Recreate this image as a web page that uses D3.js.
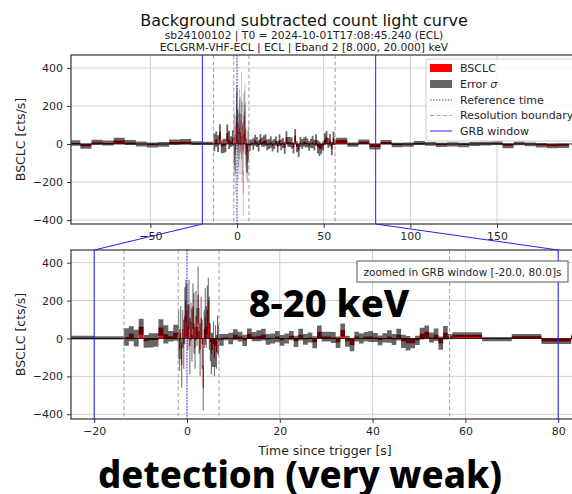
<!DOCTYPE html>
<html><head><meta charset="utf-8">
<script src="https://cdn.jsdelivr.net/npm/d3@7"></script>
<style>
body{margin:0;background:#fff;}
svg{display:block;font-family:"DejaVu Sans",sans-serif;}
</style></head><body>
<svg id="c" width="572" height="494"></svg>
<script>
// ---------- DATA ----------
const titleMain = "Background subtracted count light curve";
const titleSub1 = "sb24100102 | T0 = 2024-10-01T17:08:45.240 (ECL)";
const titleSub2 = "ECLGRM-VHF-ECL | ECL | Eband 2 [8.000, 20.000] keV";
const yLabel = "BSCLC [cts/s]";
const xLabel = "Time since trigger [s]";
const bandLabel = "8-20 keV";
const verdictLabel = "detection (very weak)";
const zoomNote = "zoomed in GRB window [-20.0, 80.0]s";
const legendLabels = ["BSCLC", "Error σ", "Reference time", "Resolution boundary", "GRB window"];

// time-bin segments: start time and bin width of each resolution segment
const segStart = [-96.8, -13.6, -1.9, 6.9, 57.2];
const segWidth = [6.4, 1.0636, 0.22, 1.006, 6.4];

// segment 0: coarse pre-burst bins
const coarsePreVals = [5, -12, 9, 5, 18, 8, 0, -5, -2, 10, 12, 4, 3];
const coarsePreErr  = [14, 13, 13, 13, 15, 13, 13, 13, 13, 14, 14, 10, 9];
// segment 1: medium pre-trigger bins
const medPreVals = [8, 25, 2, 62, -15, -10, -8, 58, 22, 12, 30];
const medPreErr  = [46, 40, 44, 42, 34, 38, 36, 44, 48, 28, 42];
// segment 2: fine bins around trigger
const fineVals = [20, -60, 30, -140, 50, -30, 120, 200, 150, 60,
                  180, -40, 90, 20, 170, 80, -50, 120, 60, 230,
                  40, -60, 110, -30, -260, 50, 115, 60, 150, 200,
                  80, -20, -80, -60, -30, -100, -40, -70, 20, -10];
const fineErr  = [130, 110, 140, 120, 100, 130, 150, 110, 140, 120,
                  130, 150, 100, 140, 120, 160, 110, 130, 100, 150,
                  120, 140, 110, 130, 120, 100, 150, 110, 130, 120,
                  140, 100, 110, 90, 120, 100, 110, 90, 100, 80];
// segment 3: medium post-trigger bins
const medPostVals = [-7, 7, 0, 20, 10, -10, 25, 10, 15, 20,
                     -5, 0, 10, -10, 0, 15, -15, 20, -5, 5,
                     -20, 35, 10, 10, 5, -20, 45, -15, -35, 10,
                     0, 10, 10, 5, -10, 3, 10, -5, 20, -15,
                     -25, -25, -10, 25, 35, 5, 20, -25, 30, 10];
const medPostErr  = [31, 17, 30, 29, 26, 30, 28, 24, 29, 31,
                     28, 26, 30, 29, 26, 24, 30, 31, 28, 26,
                     32, 33, 26, 26, 29, 30, 34, 29, 33, 26,
                     26, 24, 29, 24, 26, 24, 33, 29, 31, 35,
                     38, 26, 24, 31, 33, 26, 33, 35, 36, 14];
// segment 4: coarse post-burst bins
const coarsePostVals = [20, -3, 12, -16, 10, -5, -3, 5, 0, -5, -2, -5, 0, 2, 4, -10, 3, -2, -7, -12, -10];
const coarsePostErr  = [13, 11, 11, 13, 11, 12, 11, 11, 10, 11, 11, 12, 11, 10, 10, 12, 10, 10, 11, 11, 11];

const segVals = [coarsePreVals, medPreVals, fineVals, medPostVals, coarsePostVals];
const segErrs = [coarsePreErr, medPreErr, fineErr, medPostErr, coarsePostErr];

const boundaries = [-13.6, -1.9, 6.9, 56.6];
const refTime = 0;
const grbWindow = [-20, 80];
const topTicksX = [-50, 0, 50, 100, 150];
const botTicksX = [-20, 0, 20, 40, 60, 80];
const ticksY = [-400, -200, 0, 200, 400];

// ---------- BUILD BINS ----------
const bins = [];
segStart.forEach((s, k) => {
  segVals[k].forEach((v, i) => {
    bins.push({t0: s + i * segWidth[k], t1: s + (i + 1) * segWidth[k], v: v, e: segErrs[k][i]});
  });
});

const svg = d3.select("#c");
const BLUE = "#2020ff";

function panel(id, x, y, top, bottom, xticks) {
  const left = 71, right = 580;
  const g = svg.append("g");
  svg.append("defs").append("clipPath").attr("id", id)
    .append("rect").attr("x", left).attr("y", top).attr("width", right - left).attr("height", bottom - top);
  const pg = g.append("g").attr("clip-path", `url(#${id})`);
  // grid
  pg.selectAll(".gx").data(xticks).enter().append("line")
    .attr("x1", d => x(d)).attr("x2", d => x(d)).attr("y1", top).attr("y2", bottom)
    .attr("stroke", "#cfcfcf").attr("stroke-width", 1);
  pg.selectAll(".gy").data(ticksY).enter().append("line")
    .attr("x1", left).attr("x2", right).attr("y1", d => y(d)).attr("y2", d => y(d))
    .attr("stroke", "#cfcfcf").attr("stroke-width", 1);
  // red bars and error bands (single paths)
  let redPath = "", errPath = "";
  bins.forEach(b => {
    const xa = x(b.t0), xb = x(b.t1);
    const ya = Math.min(y(0), y(b.v)), yb = Math.max(y(0), y(b.v));
    redPath += `M${xa},${ya}H${xb}V${yb}H${xa}Z`;
    const ea = y(b.v + b.e), eb = y(b.v - b.e);
    errPath += `M${xa},${ea}H${xb}V${eb}H${xa}Z`;
  });
  pg.append("path").attr("d", redPath).attr("fill", "#ff0000");
  pg.append("path").attr("d", errPath).attr("fill", "#000").attr("fill-opacity", 0.6);
  pg.append("line").attr("x1", left).attr("x2", right).attr("y1", y(0)).attr("y2", y(0))
    .attr("stroke", "#000").attr("stroke-width", 0.9).attr("stroke-opacity", 0.8);
  // vertical markers
  pg.selectAll(".bd").data(boundaries).enter().append("line")
    .attr("x1", d => x(d)).attr("x2", d => x(d)).attr("y1", top).attr("y2", bottom)
    .attr("stroke", "#a0a0a0").attr("stroke-width", 1).attr("stroke-dasharray", "4,2.5");
  pg.append("line").attr("x1", x(refTime)).attr("x2", x(refTime)).attr("y1", top).attr("y2", bottom)
    .attr("stroke", BLUE).attr("stroke-width", 0.9).attr("stroke-dasharray", "1.5,1.5");
  pg.selectAll(".gw").data(grbWindow).enter().append("line")
    .attr("x1", d => x(d)).attr("x2", d => x(d)).attr("y1", top).attr("y2", bottom)
    .attr("stroke", BLUE).attr("stroke-width", 1);
  // axes
  const ax = g.append("g").attr("transform", `translate(0,${bottom})`)
    .call(d3.axisBottom(x).tickValues(xticks).tickSize(4).tickPadding(4));
  const ay = g.append("g").attr("transform", `translate(${left},0)`)
    .call(d3.axisLeft(y).tickValues(ticksY).tickSize(4).tickPadding(4));
  [ax, ay].forEach(a => {
    a.select(".domain").remove();
    a.selectAll("text").attr("font-size", 11).attr("fill", "#262626").attr("font-family", "DejaVu Sans");
    a.selectAll("line").attr("stroke", "#333");
  });
  // frame
  g.append("rect").attr("x", left).attr("y", top).attr("width", right - left).attr("height", bottom - top)
    .attr("fill", "none").attr("stroke", "#333").attr("stroke-width", 1.2);
  // y label
  g.append("text").attr("transform", `translate(20,${(top + bottom) / 2}) rotate(-90)`)
    .attr("text-anchor", "middle").attr("dominant-baseline", "central")
    .attr("font-size", 12.5).attr("fill", "#262626").text(yLabel);
  return g;
}

const xTop = d3.scaleLinear().domain([-95.8, 197.9]).range([71, 580]);
const yTop = d3.scaleLinear().domain([-421, 468]).range([224, 55]);
const xBot = d3.scaleLinear().domain([-25, 84.7]).range([71, 580]);
const yBot = d3.scaleLinear().domain([-425, 467]).range([419, 250]);

panel("clipTop", xTop, yTop, 55, 224, topTicksX);
panel("clipBot", xBot, yBot, 250, 419, botTicksX);

// connector lines
grbWindow.forEach(t => {
  svg.append("line").attr("x1", xTop(t)).attr("y1", 224).attr("x2", xBot(t)).attr("y2", 250)
    .attr("stroke", BLUE).attr("stroke-width", 1);
});

// legend
const lg = svg.append("g");
lg.append("rect").attr("x", 426).attr("y", 59).attr("width", 170).attr("height", 82).attr("rx", 3)
  .attr("fill", "#fff").attr("fill-opacity", 0.85).attr("stroke", "#cccccc");
const ly = [68, 84, 100, 115.5, 131];
lg.append("rect").attr("x", 430).attr("y", ly[0] - 4).attr("width", 22).attr("height", 8).attr("fill", "#ff0000");
lg.append("rect").attr("x", 430).attr("y", ly[1] - 4).attr("width", 22).attr("height", 8).attr("fill", "#000").attr("fill-opacity", 0.6);
lg.append("line").attr("x1", 430).attr("x2", 452).attr("y1", ly[2]).attr("y2", ly[2])
  .attr("stroke", BLUE).attr("stroke-width", 0.9).attr("stroke-dasharray", "1.5,1.5");
lg.append("line").attr("x1", 430).attr("x2", 452).attr("y1", ly[3]).attr("y2", ly[3])
  .attr("stroke", "#a0a0a0").attr("stroke-width", 1).attr("stroke-dasharray", "4,2.5");
lg.append("line").attr("x1", 430).attr("x2", 452).attr("y1", ly[4]).attr("y2", ly[4])
  .attr("stroke", BLUE).attr("stroke-width", 1);
legendLabels.forEach((t, i) => {
  const tx = lg.append("text").attr("x", 460).attr("y", ly[i]).attr("dominant-baseline", "central")
    .attr("font-size", 11).attr("fill", "#262626");
  if (t.endsWith("σ")) {
    tx.append("tspan").text(t.slice(0, -1));
    tx.append("tspan").attr("font-style", "italic").text("σ");
  } else tx.text(t);
});

// zoom note box
svg.append("rect").attr("x", 357).attr("y", 261).attr("width", 211).attr("height", 21)
  .attr("fill", "#fff").attr("stroke", "#555").attr("stroke-width", 1);
svg.append("text").attr("x", 462.5).attr("y", 271.5).attr("text-anchor", "middle").attr("dominant-baseline", "central")
  .attr("font-size", 10.5).attr("fill", "#262626").text(zoomNote);

// titles
svg.append("text").attr("x", 304).attr("y", 26).attr("text-anchor", "middle").attr("font-size", 16).attr("fill", "#111").text(titleMain);
svg.append("text").attr("x", 304).attr("y", 39).attr("text-anchor", "middle").attr("font-size", 10.7).attr("fill", "#222").text(titleSub1);
svg.append("text").attr("x", 304).attr("y", 51).attr("text-anchor", "middle").attr("font-size", 10.7).attr("fill", "#222").text(titleSub2);

// x label
svg.append("text").attr("x", 325).attr("y", 455).attr("text-anchor", "middle").attr("font-size", 12.5).attr("fill", "#262626").text(xLabel);

// big overlay texts
svg.append("text").attr("x", 329).attr("y", 317).attr("text-anchor", "middle")
  .attr("font-family", "Noto Sans").attr("font-weight", 800).attr("font-size", 38).attr("fill", "#000").text(bandLabel);
svg.append("text").attr("x", 300).attr("y", 488).attr("text-anchor", "middle")
  .attr("font-family", "Noto Sans").attr("font-weight", 800).attr("font-size", 36.5).attr("fill", "#000").text(verdictLabel);
</script>
</body></html>
